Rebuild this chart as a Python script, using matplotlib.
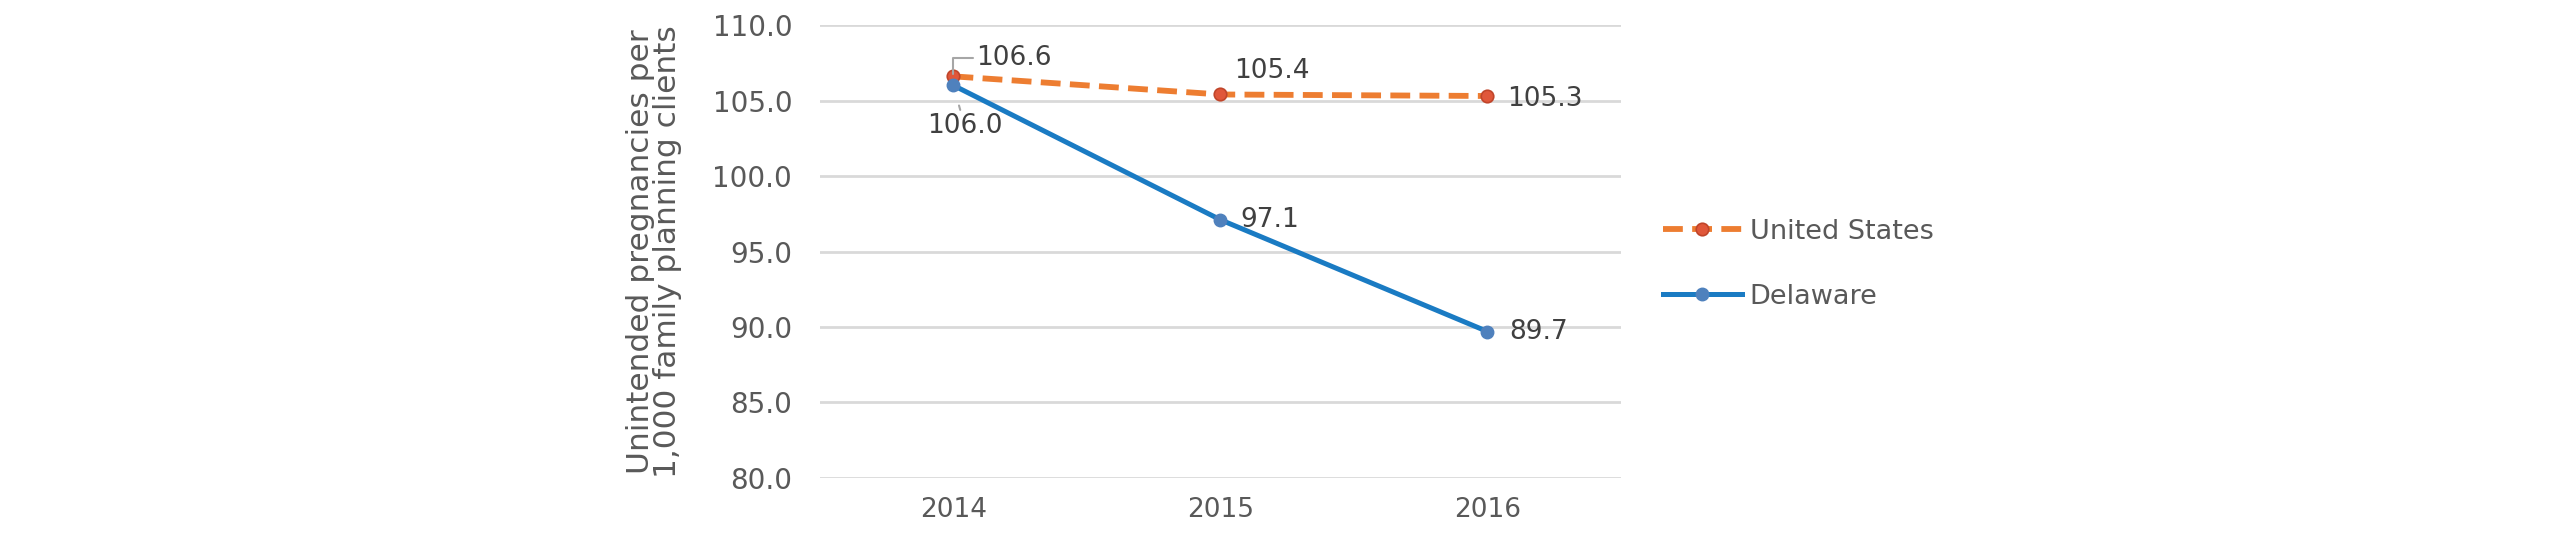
import matplotlib.pyplot as plt

# data
years = ["2014", "2015", "2016"]
us_rate = [106.6, 105.4, 105.3]
de_rate = [106.0, 97.1, 89.7]
y_ticks = [80, 85, 90, 95, 100, 105, 110]

GRAY = "#595959"
ORANGE_LINE = "#ED7D31"
ORANGE_DOT = "#E0573A"
BLUE_LINE = "#1A7BC3"
BLUE_DOT = "#4F81BD"

plt.rcParams["font.family"] = ["DejaVu Sans"]

fig = plt.figure(figsize=(25.6, 5.37), dpi=100)
ax = fig.add_axes([0.3203, 0.1099, 0.3129, 0.8435])

x = range(len(years))
ax.plot(x, us_rate, color=ORANGE_LINE, lw=4.2, ls=(0, (3.4, 1.6)),
        marker="o", ms=9, mfc=ORANGE_DOT, mec="#C0452A", mew=1.2,
        label="United States", zorder=3)
ax.plot(x, de_rate, color=BLUE_LINE, lw=3.6,
        marker="o", ms=9, mfc=BLUE_DOT, mec=BLUE_DOT,
        label="Delaware", zorder=3)

ax.set_xlim(-0.5, 2.5)
ax.set_ylim(80, 110)
ax.set_yticks(y_ticks)
ax.set_yticklabels([f"{v:.1f}" for v in y_ticks])
ax.set_xticks(list(x))
ax.set_xticklabels(years)
ax.tick_params(axis="y", length=0, pad=20, labelsize=20, labelcolor=GRAY)
ax.tick_params(axis="x", length=0, pad=14, labelsize=19, labelcolor=GRAY)
ax.grid(axis="y", color="#D9D9D9", lw=2)
ax.set_axisbelow(True)
for s in ax.spines.values():
    s.set_visible(False)

ax.set_ylabel("Unintended pregnancies per\n1,000 family planning clients",
              fontsize=22.5, color=GRAY, linespacing=0.9)
ax.yaxis.set_label_coords(-0.172, 0.5)

lbl = dict(fontsize=19, color="#404040")
leader = dict(arrowstyle="-", color="#A6A6A6", lw=1.5, shrinkA=0, shrinkB=2)

# data labels
ax.annotate(f"{us_rate[0]:.1f}", (0, us_rate[0]), xytext=(16, 13),
            textcoords="offset points", ha="left", va="center",
            arrowprops=dict(leader, connectionstyle="angle,angleA=0,angleB=90,rad=0"), **lbl)
ax.annotate(f"{de_rate[0]:.1f}", (0, de_rate[0]), xytext=(8, -29),
            textcoords="offset points", ha="center", va="center",
            arrowprops=dict(leader, shrinkB=15), **lbl)
ax.annotate(f"{us_rate[1]:.1f}", (1, us_rate[1]), xytext=(10, 17),
            textcoords="offset points", ha="left", va="center", **lbl)
ax.annotate(f"{us_rate[2]:.1f}", (2, us_rate[2]), xytext=(14, -2),
            textcoords="offset points", ha="left", va="center", **lbl)
ax.annotate(f"{de_rate[1]:.1f}", (1, de_rate[1]), xytext=(14, 0),
            textcoords="offset points", ha="left", va="center", **lbl)
ax.annotate(f"{de_rate[2]:.1f}", (2, de_rate[2]), xytext=(16, 0),
            textcoords="offset points", ha="left", va="center", **lbl)

fig.legend(loc="center left", bbox_to_anchor=(0.6496, 0.508), frameon=False,
           fontsize=19.5, labelcolor=GRAY, handlelength=2.9, handletextpad=0.3,
           labelspacing=1.45, borderpad=0, borderaxespad=0)

fig.savefig("out.png", dpi=100, facecolor="white")
